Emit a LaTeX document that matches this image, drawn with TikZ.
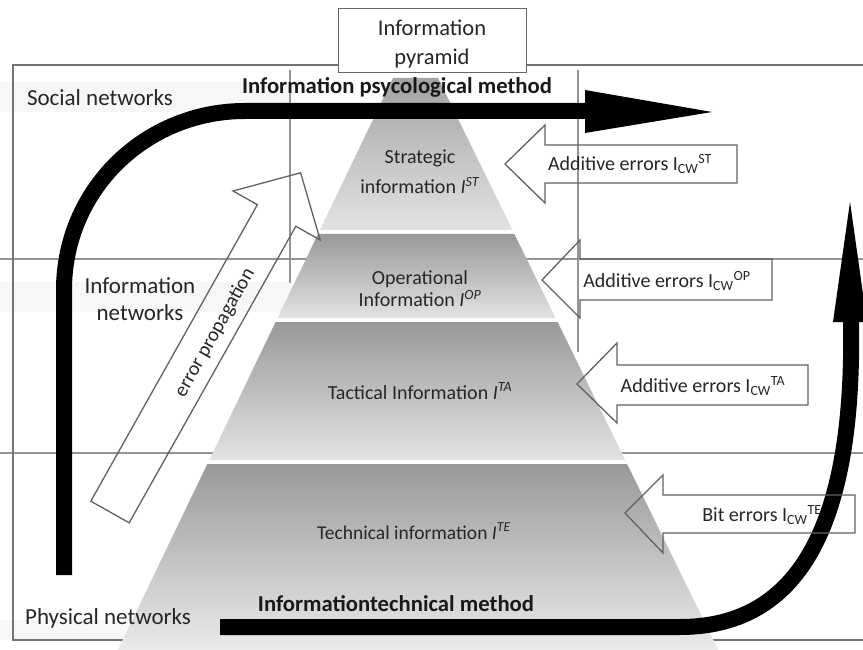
\documentclass[tikz,border=0pt]{standalone}
\usepackage{fontspec}
\setmainfont{Carlito}
\begin{document}
\begin{tikzpicture}[x=1pt,y=-1pt,
  gridline/.style={draw=black!42, line width=1.2pt},
  frameline/.style={draw=black!55, line width=1.6pt},
  band/.style={fill=black!3, draw=none},
  layer/.style={shading=axis, top color=black!40, bottom color=black!11, draw=none},
  flow/.style={draw=black, line width=16pt},
  hollow/.style={draw=black!62, line width=1.3pt, line join=miter},
  lbl/.style={font=\fontsize{20}{24}\selectfont, text=black!85, inner sep=0pt},
  netlbl/.style={font=\fontsize{23}{27}\selectfont, text=black!85, inner sep=0pt, align=center},
  blbl/.style={font=\bfseries\fontsize{22.7}{26}\selectfont, text=black!90, inner sep=0pt}]
\useasboundingbox (0,0) rectangle (863,650);
% faint bands
\fill[band] (0,82) rectangle (290,112);
\fill[band] (0,282) rectangle (293,312);
\fill[band] (0,620) rectangle (230,640);
% grid lines
\draw[gridline] (0,259) -- (863,259);
\draw[gridline] (0,453) -- (863,453);
\draw[gridline] (290,70) -- (290,283);
\draw[gridline] (578,70) -- (578,352);
% frame
\draw[frameline] (863,65) -- (13,65) -- (13,640) -- (863,640);
% pyramid
\shade[layer, top color=black!36] (393,78) -- (438,78) -- (512.5,230) -- (319.9,230) -- cycle;
\shade[layer] (318,234) -- (514.4,234) -- (555.6,318) -- (277.6,318) -- cycle;
\shade[layer] (275.6,322) -- (557.6,322) -- (625.2,460) -- (209.3,460) -- cycle;
\shade[layer, bottom color=black!8] (207.3,464) -- (627.1,464) -- (718.3,650) -- (117.9,650) -- cycle;
% black flow arrows
\draw[flow] (64,575) -- (64,290) .. controls (64,190) and (145,111) .. (245,111) -- (590,111);
\fill[black] (585,90) -- (712,112) -- (585,133) -- cycle;
\draw[flow] (220,627) -- (680,627) .. controls (790,627) and (855,540) .. (851,322);
\fill[black] (833,322) -- (850,202) -- (867,322) -- cycle;
% hollow arrows
\draw[hollow] (505,164) -- (545,125) -- (545,145) -- (737,145) -- (737,183) -- (545,183) -- (545,203) -- cycle;
\draw[hollow] (542,280) -- (580,240) -- (580,259) -- (772,259) -- (772,300) -- (580,300) -- (580,318) -- cycle;
\draw[hollow] (577,384) -- (617,343) -- (617,365) -- (808,365) -- (808,405) -- (617,405) -- (617,423) -- cycle;
\draw[hollow] (625,513) -- (663,475) -- (663,495) -- (855,495) -- (855,533) -- (663,533) -- (663,553) -- cycle;
\draw[hollow] (90.8,501.2) -- (257.4,204.7) -- (233,191) -- (300.6,172.8) -- (320.2,240) -- (295.8,226.3) -- (129.2,522.8) -- cycle;
% texts
\node[draw=black!60, line width=1pt, fill=white, minimum width=188pt, minimum height=64pt] (title) at (432,41) {};
\node[lbl, align=center, font=\fontsize{22.5}{29}\selectfont] (titletext) at (432,44) {Information\\pyramid};
\node[blbl] (psy) at (397,87) {Information psycological method};
\node[blbl] (tech) at (396,604) {Informationtechnical method};
\node[netlbl] (social) at (100,98) {Social networks};
\node[netlbl] (infonet) at (140,299) {Information\\networks};
\node[netlbl] (phys) at (108,618) {Physical networks};
\node[lbl, align=center, font=\fontsize{20}{30}\selectfont] (st) at (420,172) {Strategic\\information \textit{I}\textsuperscript{\textit{ST}}};
\node[lbl, align=center, font=\fontsize{20}{22}\selectfont] (op) at (420,289) {Operational\\Information \textit{I}\textsuperscript{\textit{OP}}};
\node[lbl] (ta) at (420,391) {Tactical Information \textit{I}\textsuperscript{\textit{TA}}};
\node[lbl, font=\fontsize{19.5}{24}\selectfont] (te) at (414,531) {Technical information \textit{I}\textsuperscript{\textit{TE}}};
\node[lbl] (est) at (630,164) {Additive errors I\textsubscript{CW}\textsuperscript{ST}};
\node[lbl] (eop) at (667,281) {Additive errors I\textsubscript{CW}\textsuperscript{OP}};
\node[lbl] (eta) at (703,386) {Additive errors I\textsubscript{CW}\textsuperscript{TA}};
\node[lbl] (ete) at (762,515) {Bit errors I\textsubscript{CW}\textsuperscript{TE}};
\node[lbl, rotate=60.7] (prop) at (215,333) {error propagation};
\end{tikzpicture}
\end{document}
